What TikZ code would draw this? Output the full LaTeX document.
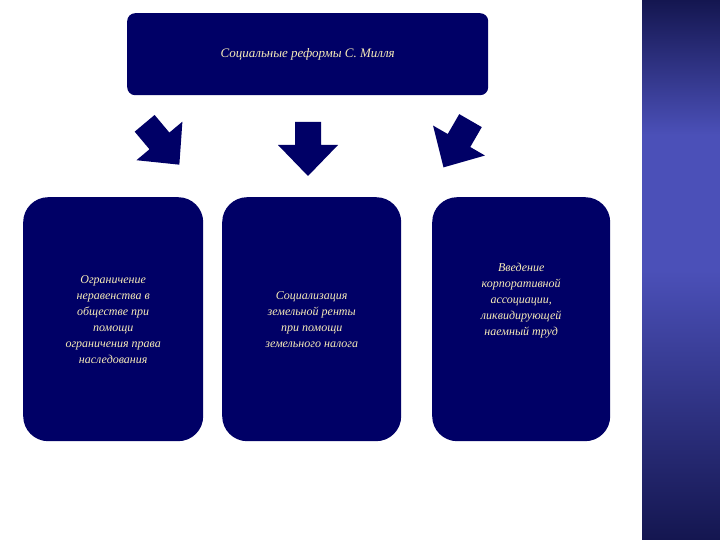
\documentclass[tikz,border=0pt]{standalone}
\usepackage{fontspec}
\setmainfont{Liberation Serif}
\begin{document}
\begin{tikzpicture}[x=1pt,y=-1pt,
  box/.style={fill=navy, draw=none, rounded corners=25pt, text=cream, font=\itshape\fontsize{12}{16}\selectfont, align=center, inner sep=0pt, anchor=north west},
  bigarrow/.style={fill=navy, draw=none}]
\definecolor{navy}{HTML}{000066}
\definecolor{cream}{HTML}{F6EBB8}
\definecolor{panmid}{HTML}{4B50B8}
\definecolor{pandark}{HTML}{141650}
\useasboundingbox (0,0) rectangle (720,540);
\fill[white] (0,0) rectangle (720,540);
\shade[top color=pandark, bottom color=panmid, middle color=panmid] (642,0) rectangle (720,270);
\shade[top color=panmid, bottom color=pandark] (642,270) rectangle (720,540);
\node[box, rounded corners=8pt, minimum width=361pt, minimum height=82pt, font=\itshape\fontsize{13}{16}\selectfont] (top) at (127,13) {Социальные реформы С. Милля};
\node[box, minimum width=180pt, minimum height=244pt] (b1) at (23,197) {Ограничение\\неравенства в\\обществе при\\помощи\\ограничения права\\наследования};
\node[box, minimum width=179pt, minimum height=244pt] (b2) at (222,197) {Социализация\\земельной ренты\\при помощи\\земельного налога};
\node[box, minimum width=178pt, minimum height=244pt, text depth=0pt] (b3) at (432,197) {Введение\\корпоративной\\ассоциации,\\ликвидирующей\\наемный труд\\[24pt]};
\def\arr{(-13,-27) -- (13,-27) -- (13,-4) -- (30,-4) -- (0,27) -- (-30,-4) -- (-13,-4) -- cycle}
\fill[bigarrow, shift={(308,149)}] \arr;
\fill[bigarrow, shift={(162,144)}, rotate=40] \arr;
\fill[bigarrow, shift={(457,144)}, rotate=-30] \arr;
\end{tikzpicture}
\end{document}
